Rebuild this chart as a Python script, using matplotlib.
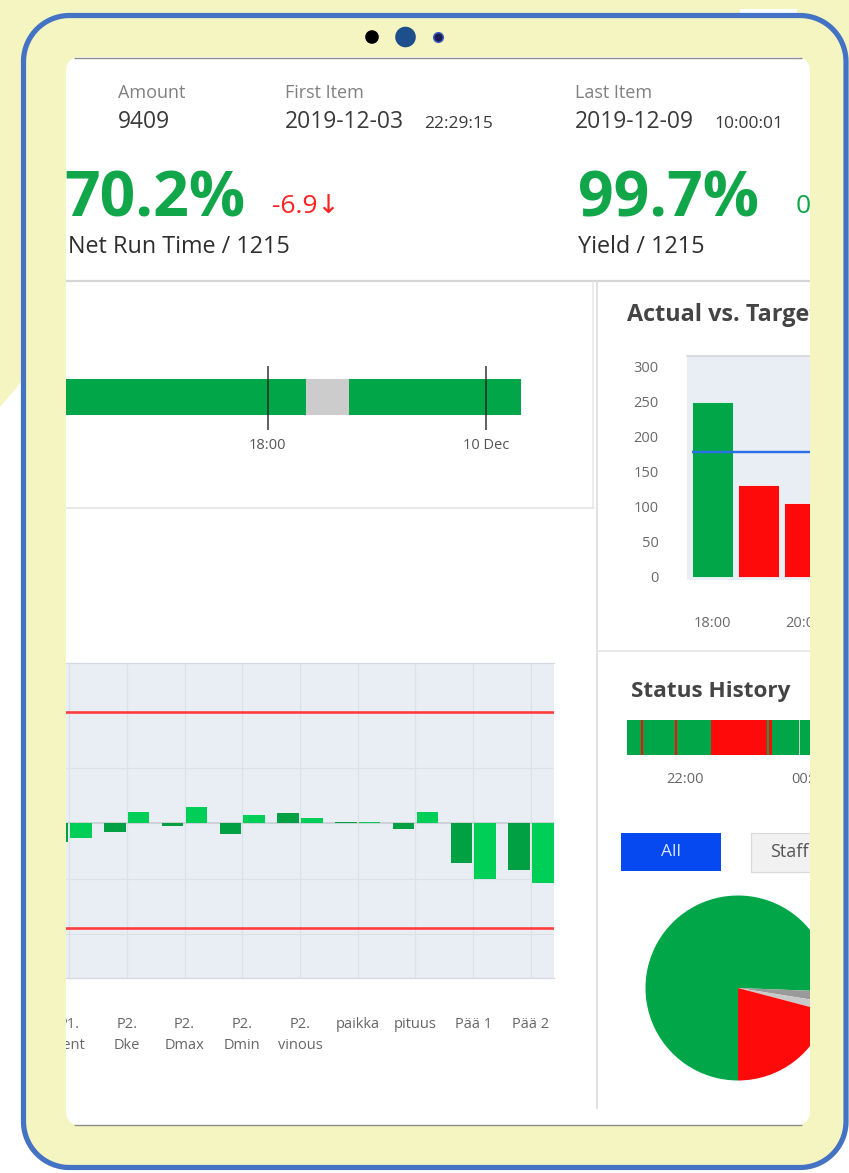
import numpy as np
import matplotlib
matplotlib.use("Agg")
import matplotlib.pyplot as plt
from matplotlib.path import Path
from matplotlib.patches import PathPatch, Rectangle, Circle, Polygon

plt.rcParams['font.family'] = ['Open Sans', 'DejaVu Sans']

# ------------------------------------------------------------------ data
amount = "9409"
first_item_date, first_item_time = "2019-12-03", "22:29:15"
last_item_date, last_item_time = "2019-12-09", "10:00:01"
net_run_time_pct = 70.2
net_run_time_delta = -6.9
yield_pct = 99.7
yield_delta = 0.0
kpi_count = 1215

# timeline (hours counted from 9 Dec 00:00)
timeline_start = [10.0, 19.05, 20.25]
timeline_end = [19.05, 20.25, 24.95]
timeline_state = ["run", "idle", "run"]
timeline_ticks = [18, 24]
timeline_tick_labels = ["18:00", "10 Dec"]

# actual vs target (hourly)
avt_hours = ["18:00", "19:00", "20:00"]
avt_actual = [250, 132, 106]
avt_target = 179
avt_yticks = [0, 50, 100, 150, 200, 250, 300]

# status history (hours counted from 3 Dec 00:00)
status_start = [21.077, 21.296, 21.328, 21.848, 21.88, 22.416, 23.312, 23.344, 23.40, 23.824, 23.848]
status_end = [21.296, 21.328, 21.848, 21.88, 22.416, 23.312, 23.344, 23.40, 23.824, 23.848, 25.0]
status_state = ["run", "stop", "run", "stop", "run", "stop", "run", "stop", "run", "idle", "run"]
status_ticks = [22, 24]
status_tick_labels = ["22:00", "00:00"]

# status pie
pie_labels = ["run", "idle", "other", "stop"]
pie_values = [75.6, 1.9, 1.6, 20.9]

# deviation chart
dev_categories = ["P1.\nCent", "P2.\nDke", "P2.\nDmax", "P2.\nDmin", "P2.\nvinous",
                  "paikka", "pituus", "Pää 1", "Pää 2"]
dev_series_a = [-0.33, -0.15, -0.04, -0.20, 0.19, 0.03, -0.10, -0.71, -0.85]
dev_series_b = [-0.27, 0.21, 0.29, 0.15, 0.10, 0.03, 0.20, -1.00, -1.07]
dev_upper_limit = 2.0
dev_lower_limit = -1.88

# ------------------------------------------------------------------ style
W, H = 849, 1173
YELLOW = '#f5f5c1'
GREEN = '#00a648'
RED = '#ff0a0a'
KPI_GREEN = '#12a64b'
STATE_COLORS = {"run": GREEN, "stop": RED, "idle": '#cccccc'}
PIE_COLORS = [GREEN, '#9a9a9a', '#c9c9c9', RED]
PLOT_BG = '#e9eef5'

fig = plt.figure(figsize=(W / 100, H / 100), dpi=100)
fig.patch.set_facecolor('white')


def px_axes(x0, y0, x1, y1, **kw):
    return fig.add_axes([x0 / W, 1 - y1 / H, (x1 - x0) / W, (y1 - y0) / H], **kw)


def PX(p):  # pixels -> points
    return p * 72 / 100


# ------------------------------------------------------------------ background / screen content
bg = px_axes(0, 0, W, H)
bg.set_xlim(0, W)
bg.set_ylim(H, 0)
bg.axis('off')
bg.set_zorder(0)

LBL = '#808080'
VAL = '#3a3a3a'
bg.text(118, 97.5, "Amount", fontsize=13, color=LBL, va='baseline')
bg.text(118, 128.3, amount, fontsize=16.5, color=VAL, va='baseline')
bg.text(285, 97.5, "First Item", fontsize=13, color=LBL, va='baseline')
bg.text(285, 128.3, first_item_date, fontsize=16.5, color=VAL, va='baseline')
bg.text(424, 128.3, first_item_time, fontsize=12.5, color=VAL, va='baseline')
bg.text(575, 97.5, "Last Item", fontsize=13, color=LBL, va='baseline')
bg.text(575, 128.3, last_item_date, fontsize=16.5, color=VAL, va='baseline')
bg.text(714, 128.3, last_item_time, fontsize=12.5, color=VAL, va='baseline')

bg.text(64, 216.7, f"{net_run_time_pct}%", fontsize=45, fontweight='bold', color=KPI_GREEN, va='baseline')
bg.text(272, 213.3, f"{net_run_time_delta}\u2193", fontsize=19, color='#ff2222', va='baseline')
bg.text(68, 252.7, f"Net Run Time / {kpi_count}", fontsize=16.8, color='#2e2e2e', va='baseline')
bg.text(578, 216.7, f"{yield_pct}%", fontsize=45, fontweight='bold', color=KPI_GREEN, va='baseline')
bg.text(796, 213.3, f"{yield_delta}", fontsize=19, color=KPI_GREEN, va='baseline')
bg.text(578, 253.3, f"Yield / {kpi_count}", fontsize=16.8, color='#2e2e2e', va='baseline')

SEP = '#dedede'
bg.plot([66, 812], [281, 281], color='#d6d6d6', lw=PX(2.2), solid_capstyle='butt')
bg.plot([593.5, 593.5], [282, 507], color='#e6e6e6', lw=PX(1.5))
bg.plot([66, 594], [507.5, 507.5], color='#e3e3e3', lw=PX(1.5))
bg.plot([597, 597], [282, 1108], color=SEP, lw=PX(1.8))
bg.plot([597, 812], [650.5, 650.5], color='#e3e3e3', lw=PX(1.5))

bg.text(627.5, 320.7, "Actual vs. Target", fontsize=16.8, fontweight='bold', color='#444444', va='baseline')
bg.text(631, 696.7, "Status History", fontsize=16.2, fontweight='bold', color='#444444', va='baseline')

bg.add_patch(Rectangle((621, 833), 100.5, 38, facecolor='#0649f0', edgecolor='none'))
bg.text(671, 852, "All", fontsize=12.5, color='#d6e4ff', ha='center', va='center')
bg.add_patch(Rectangle((751.5, 833), 150, 38.5, facecolor='#f1f1f1', edgecolor='#d9d9d9', lw=PX(1.2)))
bg.text(770, 852, "Staff", fontsize=13, color='#555555', ha='left', va='center')

# ------------------------------------------------------------------ timeline
tl = px_axes(66, 366, 594, 430)
tl.set_xlim(18 - (267.6 - 66) / 36.4, 18 + (594 - 267.6) / 36.4)
tl.set_ylim(64, 0)
tl.broken_barh([(s, e - s) for s, e in zip(timeline_start, timeline_end)], (13, 36),
               facecolors=[STATE_COLORS[s] for s in timeline_state], edgecolor='none')
tl.vlines(timeline_ticks, 0, 64, color='#1c1c1c', lw=PX(1.6), alpha=0.85)
tl.set_xticks(timeline_ticks, timeline_tick_labels)
tl.tick_params(axis='x', length=0, pad=5.5, labelsize=10.5, labelcolor='#555555')
tl.set_yticks([])
for sp in tl.spines.values():
    sp.set_visible(False)
tl.patch.set_alpha(0)

# ------------------------------------------------------------------ actual vs target
av = px_axes(687, 356, 896, 580)
bar_w = 0.9
xpos = np.arange(len(avt_actual))
av.bar(xpos, avt_actual, width=bar_w,
       color=[GREEN if a >= avt_target else RED for a in avt_actual],
       edgecolor='#f4f7fb', linewidth=0.6, zorder=2)
av.hlines(avt_target, -bar_w / 2, 4.0, color='#2b6fe6', lw=PX(2.4), zorder=3)
av.set_xlim(-0.554, 4.0)
av.set_ylim(-(580 - 577) / 0.7, (577 - 356) / 0.7)
av.set_facecolor(PLOT_BG)
av.set_yticks(avt_yticks)
av.set_xticks([0, 2], [avt_hours[0], avt_hours[2]])
av.tick_params(axis='y', length=0, pad=20.5, labelsize=10.5, labelcolor='#6a6a6a')
av.tick_params(axis='x', length=0, pad=26, labelsize=10.5, labelcolor='#6a6a6a')
for k, sp in av.spines.items():
    sp.set_visible(k == 'top')
av.spines['top'].set_color('#cfd3d9')
av.spines['top'].set_linewidth(PX(1.5))

# ------------------------------------------------------------------ status history
sh = px_axes(627.3, 720, 900, 755)
sh.set_xlim(21.077, 21.077 + (900 - 627.3) / 62.5)
sh.set_ylim(0, 1)
sh.broken_barh([(s, e - s) for s, e in zip(status_start, status_end)], (0, 1),
               facecolors=[STATE_COLORS[s] for s in status_state], edgecolor='none')
sh.set_xticks(status_ticks, status_tick_labels)
sh.tick_params(axis='x', length=0, pad=12, labelsize=10.5, labelcolor='#666666')
sh.set_yticks([])
for sp in sh.spines.values():
    sp.set_visible(False)

# ------------------------------------------------------------------ pie
pa = px_axes(645.5, 895.5, 830.5, 1080.5)
pa.pie(pie_values, colors=PIE_COLORS, startangle=270, counterclock=False, radius=1,
       wedgeprops=dict(linewidth=0))
pa.set_xlim(-1, 1)
pa.set_ylim(-1, 1)
pa.axis('off')

# ------------------------------------------------------------------ deviation chart
dv = px_axes(30, 662.7, 554.3, 977.7)
cx = np.arange(len(dev_categories))
dv.set_facecolor(PLOT_BG)
dv.set_xlim(-(69 - 30) / 57.75, (554.3 - 69) / 57.75)
dv.set_ylim(-(977.7 - 823.3) / 55.5, (823.3 - 662.7) / 55.5)
dv.set_xticks(cx, dev_categories)
dv.set_yticks([-2, -1, 0, 1, 2])
dv.grid(True, color='#dce0e7', lw=PX(1.3), zorder=0)
dv.set_axisbelow(True)
dv.axhline(0, color='#cdd1d8', lw=PX(2), zorder=1)
bw = 0.37
dv.bar(cx - 0.205, dev_series_a, width=bw, color='#00a043', zorder=2)
dv.bar(cx + 0.205, dev_series_b, width=bw, color='#00cf57', zorder=2)
dv.axhline(dev_upper_limit, color='#ff3b3b', lw=PX(2.6), zorder=3)
dv.axhline(dev_lower_limit, color='#ff3b3b', lw=PX(2.6), zorder=3)
dv.tick_params(axis='x', length=0, pad=28, labelsize=10.5, labelcolor='#666666')
dv.tick_params(axis='y', length=0, labelleft=False)
for t in dv.get_xticklabels():
    t.set_linespacing(1.55)
for k, sp in dv.spines.items():
    sp.set_visible(k in ('top', 'bottom'))
    sp.set_color('#d5d9e0')
    sp.set_linewidth(PX(1.3))

# ------------------------------------------------------------------ overlay: bezel, frame, camera
ov = px_axes(0, 0, W, H)
ov.set_xlim(0, W)
ov.set_ylim(H, 0)
ov.axis('off')
ov.set_zorder(10)
ov.patch.set_alpha(0)


def rrect(x0, y0, x1, y1, r, n=24):
    pts = []
    for cxx, cyy, a0 in [(x1 - r, y0 + r, -90), (x1 - r, y1 - r, 0),
                         (x0 + r, y1 - r, 90), (x0 + r, y0 + r, 180)]:
        t = np.radians(np.linspace(a0, a0 + 90, n))
        pts.append(np.c_[cxx + r * np.cos(t), cyy + r * np.sin(t)])
    return np.vstack(pts)


def closed(v):
    return Path(np.vstack([v, v[:1]]), closed=True)


fig_rect = np.array([[-10, -10], [W + 10, -10], [W + 10, H + 10], [-10, H + 10]], float)
screen = rrect(66, 57, 810, 1125.5, 13)
tablet_outer = rrect(21, 13, 848.5, 1170, 48)

mask = Path.make_compound_path(closed(fig_rect), closed(screen[::-1]))
ov.add_patch(PathPatch(mask, facecolor=YELLOW, edgecolor='none'))

outside = Path.make_compound_path(closed(fig_rect), closed(tablet_outer[::-1]))
white_area = Polygon([(-10, 419), (23, 380), (W + 10, 380), (W + 10, H + 10), (-10, H + 10)],
                     closed=True, facecolor='white', edgecolor='none')
ov.add_patch(white_area)
white_area.set_clip_path(outside, ov.transData)
ov.add_patch(Rectangle((740, 8.5), 57, 6, facecolor='white', edgecolor='none'))

ov.add_patch(PathPatch(closed(rrect(23.5, 15.5, 846, 1167.5, 46)), facecolor='none',
                       edgecolor='#4472c4', lw=PX(5.2)))

ov.plot([74, 802], [57.8, 57.8], color='#8e8e8e', lw=PX(1.4), solid_capstyle='butt')
ov.plot([74, 802], [1125, 1125], color='#8e8e8e', lw=PX(1.4), solid_capstyle='butt')

ov.add_patch(Circle((372, 37), 6.8, facecolor='black', edgecolor='none'))
ov.add_patch(Circle((405.5, 37), 10.3, facecolor='#1d4f8c', edgecolor='none'))
ov.add_patch(Circle((438.5, 37.5), 4.8, facecolor='#1b1b55', edgecolor='#3a5ec0', lw=PX(1.5)))

fig.savefig("out.png", dpi=100, facecolor=fig.get_facecolor())
